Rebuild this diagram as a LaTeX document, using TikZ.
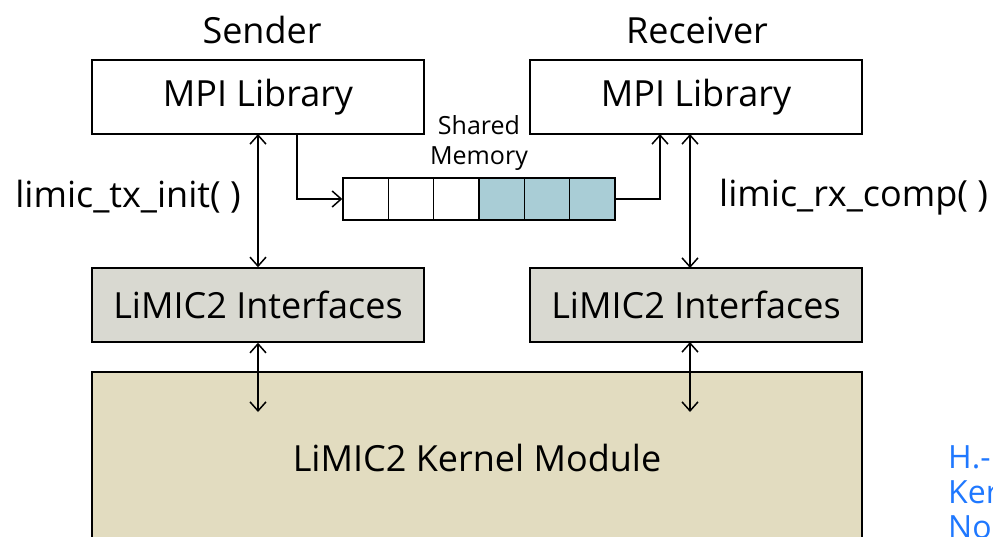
\documentclass[tikz,border=0pt]{standalone}
\usepackage{fontspec}
\setmainfont{Open Sans}
\usetikzlibrary{arrows.meta,positioning}
\definecolor{cellBlue}{HTML}{A9CDD6}
\definecolor{ifGray}{HTML}{D9D9D1}
\definecolor{kernTan}{HTML}{E2DCC0}
\definecolor{refBlue}{HTML}{1F78FF}

\begin{document}
\begin{tikzpicture}[
    x=1pt,y=-1pt,
    >={Straight Barb[length=9pt,width=16pt]},
    every node/.style={font=\fontsize{36}{40}\selectfont,inner sep=0pt},
    libbox/.style={rectangle,draw,line width=1.5pt,fill=white,
                   minimum width=332pt,minimum height=74pt},
    ifbox/.style={libbox,fill=ifGray},
    cell/.style={rectangle,draw,line width=1.5pt,fill=white,
                 minimum width=45.3pt,minimum height=42pt},
    arr/.style={line width=1.5pt},
    small/.style={font=\fontsize{25}{32}\selectfont,align=center},
    refnote/.style={font=\fontsize{32}{35}\selectfont,text=refBlue,anchor=west}
  ]
  \clip (0,0) rectangle (993,536);
  %% sender / receiver columns
  \node (snd) at (262,30) {Sender};
  \node (rcv) at (697,30) {Receiver};
  \node[libbox] (mpiS) at (258,97) {MPI Library};
  \node[libbox] (mpiR) at (696,97) {MPI Library};
  \node[ifbox] (ifS) at (258,305) {LiMIC2 Interfaces};
  \node[ifbox] (ifR) at (696,305) {LiMIC2 Interfaces};
  \node[rectangle,draw,line width=1.5pt,fill=kernTan,
        minimum width=770pt,minimum height=172pt] (kern) at (477,458)
        {LiMIC2 Kernel Module};
  %% shared memory cells
  \foreach \i in {0,...,5}
    \node[cell] (c\i) at ({365.7+45.3*\i},199) {};
  \foreach \i in {3,4,5}
    \node[cell,fill=cellBlue] at (c\i) {};
  \node[small] (shm) at (479,143) {Shared\\[-2pt]Memory};
  %% connectors
  \coordinate (tapS) at (297,134);
  \coordinate (tapR) at (660,134);
  \draw[arr,->] (tapS) |- (c0.west);
  \draw[arr,->] (c5.east) -| (tapR);
  \draw[arr,<->] (258,134) -- (ifS.north);
  \draw[arr,<->] (690,134) -- (690,268);
  \coordinate (kS) at (258,412);
  \coordinate (kR) at (690,412);
  \draw[arr,<->] (ifS.south) -- (kS);
  \draw[arr,<->] (690,342) -- (kR);
  %% call labels
  \node[anchor=east] (tx) at (241,197) {limic\_tx\_init( )};
  \node[anchor=west] (rx) at (719,197) {limic\_rx\_comp( )};
  %% reference note (cut by the edge)
  \node[refnote] (n1) at (948,457) {H.-};
  \node[refnote] (n2) at (948,492) {Ker};
  \node[refnote] (n3) at (948,527) {No};
\end{tikzpicture}
\end{document}
